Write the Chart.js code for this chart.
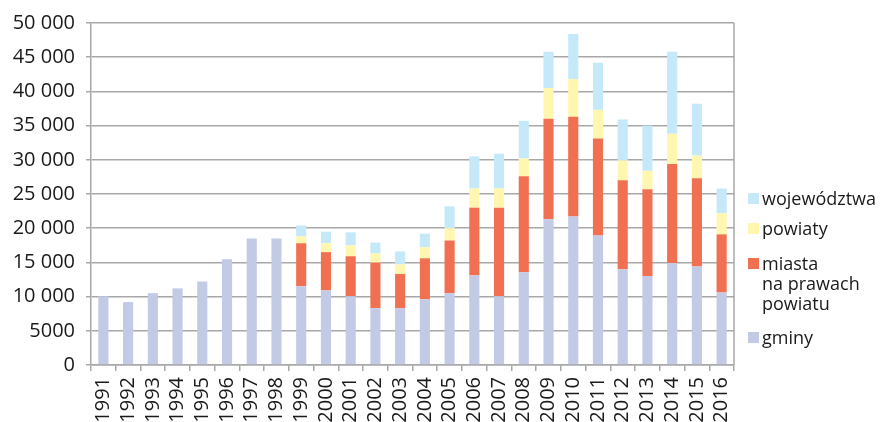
<!DOCTYPE html>
<html>
<head>
<meta charset="utf-8">
<script src="https://cdn.jsdelivr.net/npm/chart.js@4"></script>
<style>
    body { margin: 0; background: #fff; }
    #wrap { position: relative; width: 882px; height: 422px; overflow: hidden; }
    .item { position: absolute; left: 748px; font-family: "Open Sans", sans-serif; font-size: 18px; line-height: 20px; color: #1a1a1a; }
    .item span.sq { position: absolute; left: 0; top: 5px; width: 11px; height: 11px; }
    .item div { margin-left: 14px; }
</style>
</head>
<body>
<div id="wrap">
    <canvas id="myChart"></canvas>
    <div id="legend"></div>
</div>
<script>
const years = ['1991', '1992', '1993', '1994', '1995', '1996', '1997', '1998', '1999', '2000', '2001', '2002', '2003',
    '2004', '2005', '2006', '2007', '2008', '2009', '2010', '2011', '2012', '2013', '2014', '2015', '2016'];

// wartości
const gminy = [10050, 9200, 10500, 11200, 12200, 15450, 18500, 18500, 11500, 10900, 10050, 8300, 8300,
    9600, 10500, 13100, 10050, 13550, 21300, 21700, 18950, 14000, 13000, 14900, 14400, 10600];
const miasta = [null, null, null, null, null, null, null, null, 6300, 5600, 5850, 6670, 5000,
    6000, 7700, 9900, 12950, 14050, 14700, 14600, 14150, 13000, 12700, 14500, 12900, 8500];
const powiaty = [null, null, null, null, null, null, null, null, 1000, 1300, 1600, 1330, 1400,
    1600, 1800, 2800, 2800, 2600, 4500, 5500, 4200, 2900, 2700, 4400, 3300, 3100];
const wojewodztwa = [null, null, null, null, null, null, null, null, 1600, 1700, 1900, 1600, 1900,
    2000, 3200, 4700, 5100, 5500, 5300, 6600, 6900, 6000, 6600, 12000, 7600, 3600];

const yTicks = [0, 5000, 10000, 15000, 20000, 25000, 30000, 35000, 40000, 45000, 50000];
const yTickLabels = ['0', '5000', '10 000', '15 000', '20 000', '25 000', '30 000', '35 000', '40 000', '45 000', '50 000'];

const seriesNames = ['gminy', 'miasta\nna prawach\npowiatu', 'powiaty', 'województwa'];
const seriesColors = ['#c3cae6', '#f27052', '#fff7b0', '#c6e9f9'];

const gridGray = '#a8a8a8';

// prawa krawędź obszaru wykresu
const rightBorder = {
    id: 'rightBorder',
    afterDraw(chart) {
        const a = chart.chartArea;
        const c = chart.ctx;
        c.save();
        c.strokeStyle = gridGray;
        c.lineWidth = 1.5;
        c.beginPath();
        c.moveTo(a.right, a.top);
        c.lineTo(a.right, a.bottom);
        c.stroke();
        c.restore();
    }
};

const data = [gminy, miasta, powiaty, wojewodztwa];
const ctx = document.getElementById('myChart').getContext('2d');

window.chart = new Chart(ctx, {
    type: 'bar',
    data: {
        labels: years,
        datasets: data.map((values, i) => ({
            label: seriesNames[i],
            data: values,
            backgroundColor: seriesColors[i],
            borderWidth: 0,
            barPercentage: 0.41,
            categoryPercentage: 1
        }))
    },
    options: {
        responsive: true,
        maintainAspectRatio: false,
        animation: false,
        layout: {
            padding: { top: 21, right: 148, left: 0, bottom: 0 }
        },
        plugins: {
            legend: { display: false },
            tooltip: { enabled: false }
        },
        scales: {
            x: {
                stacked: true,
                grid: {
                    offset: true,
                    drawOnChartArea: false,
                    tickLength: 6,
                    tickColor: gridGray,
                    lineWidth: 1.5
                },
                border: { color: gridGray, width: 1.5 },
                ticks: {
                    autoSkip: false,
                    minRotation: 90,
                    maxRotation: 90,
                    padding: 6,
                    color: '#1a1a1a',
                    font: { family: 'Open Sans', size: 20 }
                },
                afterFit: (scale) => { scale.height = 57; }
            },
            y: {
                stacked: true,
                min: 0,
                max: 50000,
                afterBuildTicks: (scale) => {
                    scale.ticks = yTicks.map((v) => ({ value: v }));
                },
                grid: {
                    color: gridGray,
                    lineWidth: 1.5,
                    tickLength: 5
                },
                border: { color: gridGray, width: 1.5 },
                ticks: {
                    padding: 11,
                    color: '#1a1a1a',
                    font: { family: 'Open Sans', size: 20 },
                    callback: (value) => yTickLabels[yTicks.indexOf(value)]
                },
                afterFit: (scale) => { scale.width = 91; }
            }
        }
    },
    plugins: [rightBorder]
});

// legenda (odwrotna kolejność jak w oryginale)
const legend = document.getElementById('legend');
const legendTops = [327, 253, 218, 188];
for (let i = seriesNames.length - 1; i >= 0; i--) {
    const item = document.createElement('div');
    item.className = 'item';
    item.style.top = legendTops[i] + 'px';
    const sq = document.createElement('span');
    sq.className = 'sq';
    sq.style.background = seriesColors[i];
    const txt = document.createElement('div');
    txt.innerHTML = seriesNames[i].split('\n').join('<br>');
    item.appendChild(sq);
    item.appendChild(txt);
    legend.appendChild(item);
}
</script>
</body>
</html>
